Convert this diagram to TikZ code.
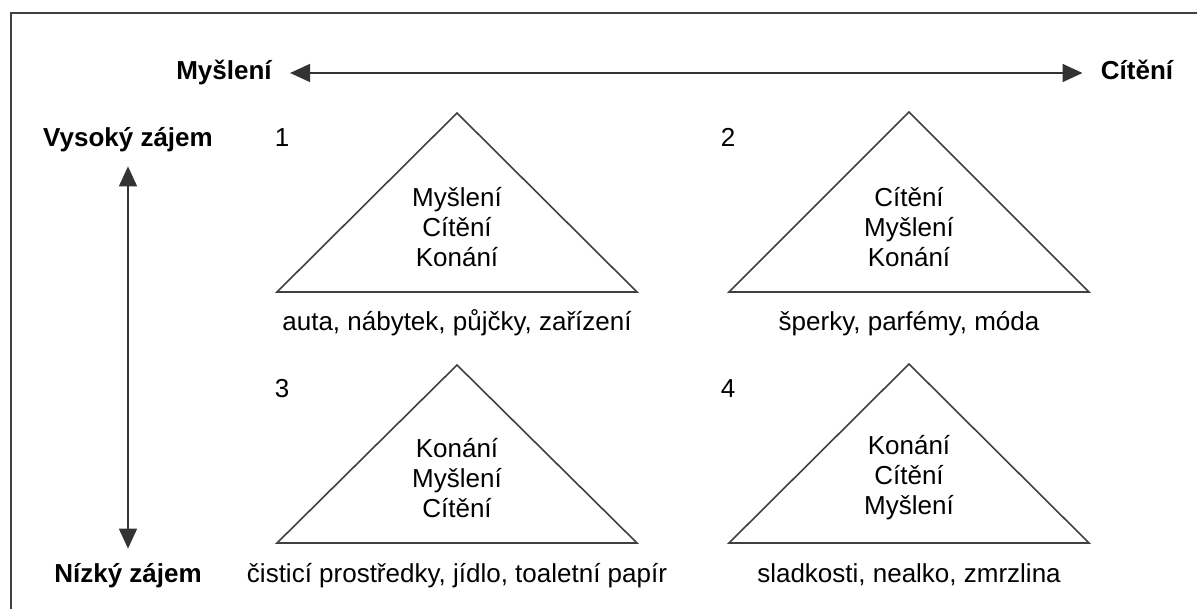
\documentclass[tikz,border=0pt]{standalone}
\usepackage{fontspec}
\setmainfont{Liberation Sans}
\usepackage{xcolor}
\usetikzlibrary{arrows.meta}
\usetikzlibrary{positioning}

\tikzset{
  lbl/.style={inner sep=0pt, anchor=base, text height=9.5pt, text depth=2.5pt},
  axislbl/.style={lbl, font=\fontsize{13}{15}\selectfont\bfseries, inner xsep=9pt},
  levellbl/.style={lbl, font=\fontsize{13}{15}\selectfont\bfseries, inner ysep=7pt},
  tipline/.style={draw=black!80, line width=0.8pt, {Triangle[length=10pt,width=9pt]}-{Triangle[length=10pt,width=9pt]}},
  pyramid/.style={draw=black!75, line width=0.8pt, line join=miter},
  order/.style={align=center, font=\fontsize{13}{15}\selectfont, inner sep=0pt}
}

\begin{document}
\begin{tikzpicture}[x=0.5pt, y=-0.5pt, font=\fontsize{13}{15}\selectfont]
\useasboundingbox (0,0) rectangle (1197,609);

% frame
\draw[black!75, line width=1pt] (1197,13) -- (11,13) -- (11,609);

% axes
\node[axislbl] (mysleni) at (224,80) {Myšlení};
\node[axislbl] (citeni) at (1137,80) {Cítění};
\node[levellbl] (vysoky) at (128,147) {Vysoký zájem};
\node[levellbl] (nizky) at (128,582) {Nízký zájem};

\path[tipline] (mysleni) -- (citeni);
\path[tipline] (vysoky.south) -- (vysoky.south |- nizky.north);

% pyramids
\draw[pyramid] (457,113) -- (637,292) -- (277,292) -- cycle;
\draw[pyramid] (909,112) -- (1089,292) -- (729,292) -- cycle;
\draw[pyramid] (457,365) -- (637,543) -- (277,543) -- cycle;
\draw[pyramid] (909,364) -- (1089,543) -- (729,543) -- cycle;

\node[lbl] (n1) at (282,147) {1};
\node[lbl] (n2) at (728,147) {2};
\node[lbl] (n3) at (282,397) {3};
\node[lbl] (n4) at (728,397) {4};

\node[order] (p1) at (457,227) {Myšlení\\Cítění\\Konání};
\node[order] (p2) at (909,227) {Cítění\\Myšlení\\Konání};
\node[order] (p3) at (457,478) {Konání\\Myšlení\\Cítění};
\node[order] (p4) at (909,478) {Konání\\Cítění\\Myšlení};

\node[lbl] (g1) at (457,330) {auta, nábytek, půjčky, zařízení};
\node[lbl] (g2) at (909,330) {šperky, parfémy, móda};
\node[lbl] (g3) at (457,582) {čisticí prostředky, jídlo, toaletní papír};
\node[lbl] (g4) at (909,582) {sladkosti, nealko, zmrzlina};

\end{tikzpicture}
\end{document}
